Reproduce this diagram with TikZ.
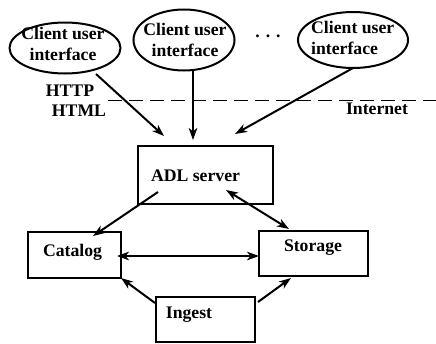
\documentclass[tikz,border=0pt]{standalone}
\usepackage{fontspec}
\setmainfont{Liberation Serif}
\usetikzlibrary{arrows.meta,shapes.geometric}
\begin{document}
\begin{tikzpicture}[x=1pt,y=-1pt,
  every node/.style={font=\fontsize{17.7}{21}\selectfont\bfseries},
  oval/.style={draw,ellipse,line width=2pt,inner sep=0pt},
  box/.style={draw,rectangle,line width=2pt,inner sep=0pt},
  lbl/.style={anchor=base,inner sep=0pt},
  conn/.style={line width=2pt,-{Stealth[length=12pt,width=8.5pt,inset=3.5pt]}},
  dconn/.style={line width=2pt,{Stealth[length=12pt,width=8.5pt,inset=3.5pt]}-{Stealth[length=12pt,width=8.5pt,inset=3.5pt]}}]
\useasboundingbox (0,0) rectangle (436,343);
% client ellipses
\node[oval,minimum width=111pt,minimum height=51pt] (e1) at (65,48) {};
\node[oval,minimum width=101pt,minimum height=61pt] (e2) at (184,40) {};
\node[oval,minimum width=110pt,minimum height=56pt] (e3) at (353,40) {};
\node[align=center,inner sep=0pt] (t1) at (63,44) {Client user\\interface};
\node[align=center,inner sep=0pt] (t2) at (185,40) {Client user\\interface};
\node[align=left,anchor=west,inner sep=0pt] (t3) at (311,38) {Client user\\interface};
\node[lbl] (dots) at (268,37) {. . .};
% internet boundary
\coordinate (dl) at (108,100);
\coordinate (dr) at (436,100);
\draw[line width=0.9pt,dash pattern=on 14pt off 7pt] (dl) -- (dr);
\node[lbl] (http) at (70,96) {HTTP};
\node[lbl] (html) at (79,116) {HTML};
\node[lbl] (inet) at (377,114) {Internet};
% boxes
\node[box,minimum width=135pt,minimum height=58pt] (adl) at (205.5,175) {};
\node[lbl] (adlt) at (195.5,181) {ADL server};
\node[box,minimum width=93pt,minimum height=46pt] (cat) at (74.5,255) {};
\node[lbl] (catt) at (72.5,256) {Catalog};
\node[box,minimum width=109pt,minimum height=45pt] (sto) at (313.5,253.5) {};
\node[lbl] (stot) at (313,251) {Storage};
\node[box,minimum width=99pt,minimum height=45pt] (ing) at (205.5,319.5) {};
\node[lbl] (ingt) at (189,318) {Ingest};
% connector end points
\coordinate (a1s) at (96,74);
\coordinate (a1e) at (164,136);
\coordinate (a2s) at (193,70);
\coordinate (a2e) at (193,140);
\coordinate (a3s) at (353,68);
\coordinate (a3e) at (235,134);
\coordinate (b1s) at (158,192);
\coordinate (b1e) at (93,236);
\coordinate (b2s) at (226,190);
\coordinate (b2e) at (289,229);
\coordinate (b3s) at (117,256);
\coordinate (b3e) at (259,256);
\coordinate (b4s) at (155,303);
\coordinate (b4e) at (121,278);
\coordinate (b5s) at (258,302);
\coordinate (b5e) at (291,278);
% connectors
\draw[conn] (a1s) -- (a1e);
\draw[conn] (a2s) -- (a2e);
\draw[conn] (a3s) -- (a3e);
\draw[conn] (b1s) -- (b1e);
\draw[dconn] (b2s) -- (b2e);
\draw[dconn] (b3s) -- (b3e);
\draw[conn] (b4s) -- (b4e);
\draw[conn] (b5s) -- (b5e);
\end{tikzpicture}
\end{document}
